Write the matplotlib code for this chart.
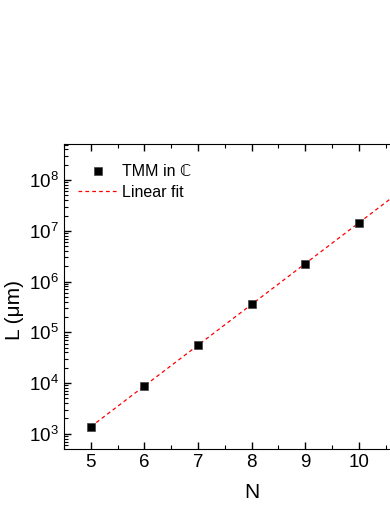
import matplotlib.pyplot as plt
import numpy as np
from matplotlib.ticker import NullFormatter, LogLocator

plt.rcParams['font.family'] = ['Liberation Sans', 'DejaVu Sans']
plt.rcParams['mathtext.fontset'] = 'custom'
plt.rcParams['mathtext.rm'] = 'Liberation Sans'
plt.rcParams['mathtext.it'] = 'Liberation Sans:italic'

# datos
n_layers = [5, 6, 7, 8, 9, 10]
length_um = [1.38e3, 8.8e3, 5.5e4, 3.6e5, 2.2e6, 1.45e7]
y_ticks = [1e3, 1e4, 1e5, 1e6, 1e7, 1e8]

# ajuste lineal en escala log
coef = np.polyfit(n_layers, np.log10(length_um), 1)
n_fit = np.array([5, 11])
l_fit = 10 ** np.polyval(coef, n_fit)

fig = plt.figure(figsize=(3.9, 5.05), dpi=100)
ax = fig.add_axes([64 / 390, 56 / 505, 335 / 390, 305 / 505])

ax.plot(n_fit, l_fit, '--', color='red', lw=0.9, dashes=(3, 2.5), label='Linear fit')
ax.plot(n_layers, length_um, 's', color='black', mec='#444444', mew=0.5, ms=6,
        label='TMM in ℂ')

ax.set_yscale('log')
ax.set_xlim(4.5, 10.75)
ax.set_ylim(10 ** 2.7, 10 ** 8.71)
ax.set_yticks(y_ticks)
ax.yaxis.set_minor_locator(LogLocator(base=10, subs=np.arange(2, 10), numticks=20))
ax.set_xticks([5, 6, 7, 8, 9, 10])
ax.set_xticks(np.arange(4.5, 11, 0.5), minor=True)
ax.xaxis.set_minor_formatter(NullFormatter())
ax.yaxis.set_minor_formatter(NullFormatter())
ax.tick_params(which='both', direction='in', top=True, right=False, labelsize=13.5)
ax.tick_params(which='major', length=5, width=1)
ax.tick_params(which='minor', length=3, width=0.8)
ax.spines['right'].set_visible(False)

ax.set_xlabel('N', fontsize=15)
ax.set_ylabel('L (μm)', fontsize=15)
ax.xaxis.set_label_coords(0.561, -0.141)
ax.yaxis.set_label_coords(-0.149, 0.456)
ax.xaxis.label.set_va('center')
ax.yaxis.label.set_va('center')
ax.yaxis.label.set_ha('center')

h, lab = ax.get_legend_handles_labels()
ax.legend(h[::-1], lab[::-1], loc='upper left', frameon=False, fontsize=11.5,
          bbox_to_anchor=(0.0, 0.98), handlelength=2.4, handletextpad=0.3,
          borderpad=0.4, labelspacing=0.35)

fig.savefig('out.png', dpi=100)
